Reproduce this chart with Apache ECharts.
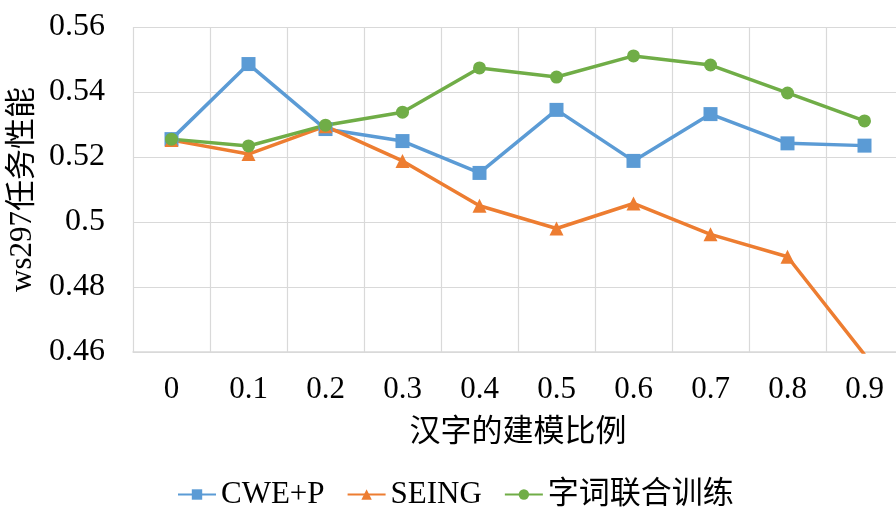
<!DOCTYPE html>
<html>
<head>
<meta charset="utf-8">
<script src="https://cdn.jsdelivr.net/npm/echarts@6/dist/echarts.min.js"></script>
<style>
  html, body { margin: 0; padding: 0; background: #fff; }
  #charts { width: 896px; height: 509px; }
</style>
</head>
<body>
<div id="charts"></div>
<script>
// 数据
var categories = ["0", "0.1", "0.2", "0.3", "0.4", "0.5", "0.6", "0.7", "0.8", "0.9"];
var cweP = [0.5255, 0.5486, 0.5286, 0.5249, 0.5151, 0.5345, 0.5188, 0.5332, 0.5242, 0.5235];
var seing = [0.5252, 0.5209, 0.5295, 0.5188, 0.5050, 0.4980, 0.5057, 0.4962, 0.4893, 0.4592];
var joint = [0.5255, 0.5234, 0.5298, 0.5338, 0.5474, 0.5446, 0.5511, 0.5483, 0.5397, 0.5311];

var font = "'Liberation Serif', 'Times New Roman', 'Noto Sans CJK SC', serif";

var myChart = echarts.init(document.getElementById("charts"));
myChart.setOption({
  animation: false,
  textStyle: { fontFamily: font },
  legend: {
    bottom: -6,
    left: 172,
    itemWidth: 38,
    itemHeight: 13,
    itemGap: 22,
    textStyle: { fontSize: 31, color: "#000", fontFamily: font },
    data: ["CWE+P", "SEING", "字词联合训练"],
  },
  grid: {
    left: 133,
    top: 27,
    width: 770,
    height: 325,
    outerBoundsMode: "none",
  },
  xAxis: {
    type: "category",
    data: categories,
    boundaryGap: true,
    name: "汉字的建模比例",
    nameLocation: "middle",
    nameGap: 65,
    nameTextStyle: { fontSize: 31, color: "#000", fontFamily: font },
    axisLine: { lineStyle: { color: "#d9d9d9", width: 1.5 } },
    axisTick: { show: false },
    axisLabel: { fontSize: 31, color: "#000", margin: 22, interval: 0 },
    splitLine: { show: true, lineStyle: { color: "#d9d9d9", width: 1.2 } },
  },
  yAxis: {
    type: "value",
    min: 0.46,
    max: 0.56,
    interval: 0.02,
    name: "ws297任务性能",
    nameLocation: "middle",
    nameGap: 91,
    nameTextStyle: { fontSize: 31, color: "#000", fontFamily: font },
    axisLine: { show: false },
    axisTick: { show: false },
    axisLabel: {
      fontSize: 32,
      color: "#000",
      margin: 28,
      formatter: function (v) { return String(+v.toFixed(2)); },
    },
    splitLine: { lineStyle: { color: "#d9d9d9", width: 1.2 } },
  },
  series: [
    {
      name: "CWE+P",
      type: "line",
      data: cweP,
      symbol: "rect",
      symbolSize: 14,
      color: "#5B9BD5",
      lineStyle: { width: 3.5 },
    },
    {
      name: "SEING",
      type: "line",
      data: seing,
      symbol: "triangle",
      symbolSize: 14,
      color: "#ED7D31",
      lineStyle: { width: 3.5 },
      clip: true,
    },
    {
      name: "字词联合训练",
      type: "line",
      data: joint,
      symbol: "circle",
      symbolSize: 13,
      color: "#70AD47",
      lineStyle: { width: 3.5 },
    },
  ],
});
</script>
</body>
</html>
